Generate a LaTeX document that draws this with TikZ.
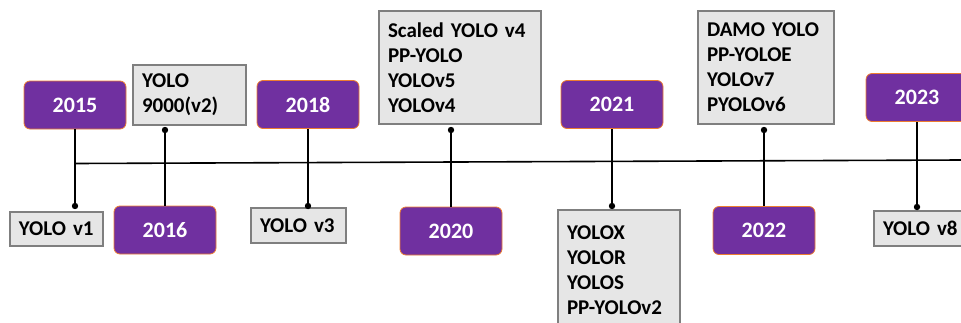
\documentclass[tikz,border=0pt]{standalone}
\usepackage{fontspec}
\setmainfont{Carlito}[WordSpace=0.8]
\usetikzlibrary{calc}
\definecolor{yearfill}{HTML}{7030A0}
\definecolor{yearedge}{HTML}{ED7D31}
\definecolor{boxfill}{HTML}{E6E6E6}
\definecolor{boxedge}{HTML}{7F7F7F}
\begin{document}
\begin{tikzpicture}[x=1pt,y=-1pt,
  year/.style={rectangle, rounded corners=6pt, fill=yearfill, draw=yearedge,
    line width=0.8pt, minimum width=102pt, minimum height=48pt, inner sep=0pt,
    text=white, font=\fontsize{22}{26}\selectfont\bfseries},
  model/.style={rectangle, fill=boxfill, draw=boxedge, line width=2pt,
    anchor=north west, align=left, inner xsep=9pt, inner ysep=0pt,
    font=\fontsize{21}{25}\selectfont\bfseries},
  link/.style={line width=1.9pt, draw=black},
  dotmark/.style={fill=black}]
\useasboundingbox (0,0) rectangle (961,322);
\clip (0,0) rectangle (961,322);

% year markers
\node[year] (y2015) at (75,105) {2015};
\node[year] (y2016) at (165,230) {2016};
\node[year] (y2018) at (308,104.5) {2018};
\node[year] (y2020) at (451,231) {2020};
\node[year] (y2021) at (612,104.5) {2021};
\node[year] (y2022) at (764,230.5) {2022};
\node[year] (y2023) at (917,97.5) {2023};

% model boxes
\node[model, text width=75pt, minimum height=34pt] (v1) at (9,211) {YOLO v1};
\node[model, text width=95pt, minimum height=60pt] (v2) at (132,64) {YOLO\\9000(v2)};
\node[model, text width=77pt, minimum height=35pt] (v3) at (250,207) {YOLO v3};
\node[model, text width=144pt, minimum height=113pt] (m2020) at (378,10)
  {Scaled YOLO v4\\PP-YOLO\\YOLOv5\\YOLOv4};
\node[model, text width=104pt, minimum height=120pt] (m2021) at (557,209)
  {YOLOX\\YOLOR\\YOLOS\\PP-YOLOv2};
\node[model, text width=118pt, minimum height=113pt] (m2022) at (697,10)
  {DAMO YOLO\\PP-YOLOE\\YOLOv7\\PYOLOv6};
\node[model, text width=80pt, minimum height=35pt] (v8) at (873,210) {YOLO v8};

% dots where the links meet the model boxes
\coordinate (d2015) at ($(y2015.south |- v1.north)+(0,-5)$);
\coordinate (d2016) at ($(y2016.north |- v2.south)+(0,4)$);
\coordinate (d2018) at ($(y2018.south |- v3.north)+(0,-1)$);
\coordinate (d2020) at ($(y2020.north |- m2020.south)+(0,5)$);
\coordinate (d2021) at ($(y2021.south |- m2021.north)+(0,-3)$);
\coordinate (d2022) at ($(y2022.north |- m2022.south)+(0,5)$);
\coordinate (d2023) at ($(y2023.south |- v8.north)+(0,-3)$);

% time axis
\coordinate (axis0) at (75,163.5);
\coordinate (axis1) at (961,160);
\draw[link, line width=1.6pt] (axis0) -- (axis1);

% links
\draw[link] (y2015.south) -- (d2015);
\draw[link] (y2016.north) -- (d2016);
\draw[link] (y2018.south) -- (d2018);
\draw[link] (y2020.north) -- (d2020);
\draw[link] (y2021.south) -- (d2021);
\draw[link] (y2022.north) -- (d2022);
\draw[link] (y2023.south) -- (d2023);

\foreach \d in {d2015,d2016,d2018,d2020,d2021,d2022,d2023}
  \fill[dotmark] (\d) circle (3.2pt);
\end{tikzpicture}
\end{document}
